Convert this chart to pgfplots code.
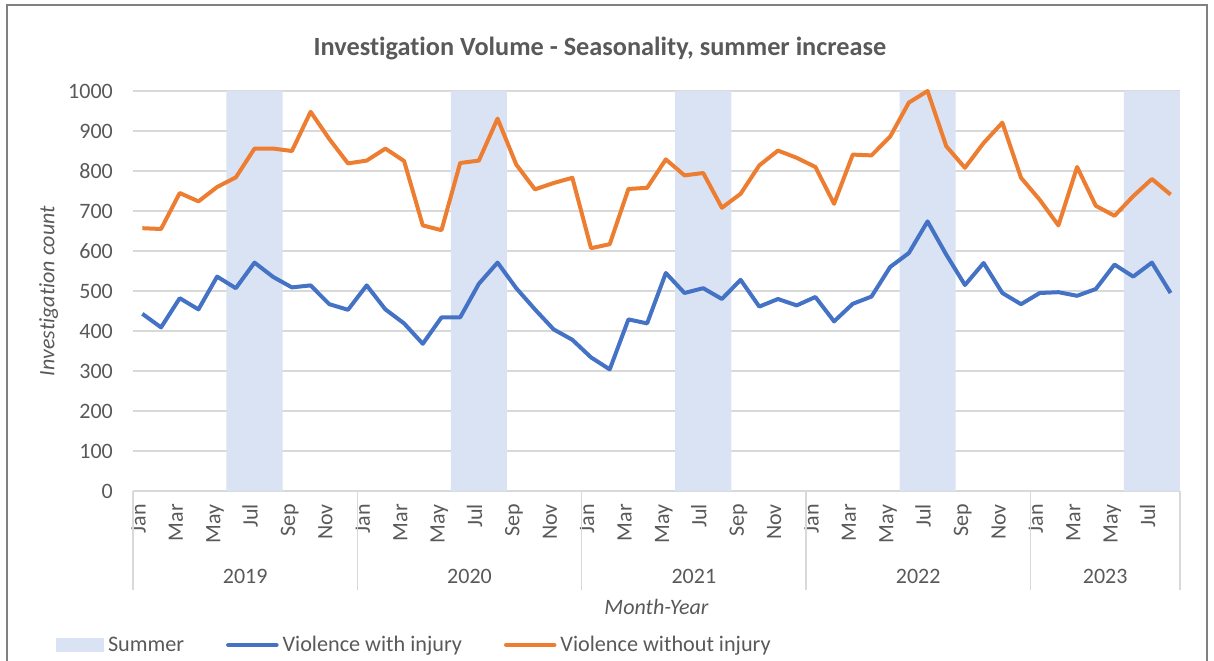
\documentclass[border=0pt]{standalone}
\usepackage{pgfplots}
\pgfplotsset{compat=1.18}
\usepackage{fontspec}
\setmainfont{Carlito}[Ligatures=NoCommon]
\definecolor{txt}{HTML}{595959}
\definecolor{gridc}{HTML}{D9D9D9}
\definecolor{summer}{HTML}{DAE3F3}
\definecolor{cblue}{HTML}{4472C4}
\definecolor{corange}{HTML}{ED7D31}
\definecolor{frame}{HTML}{808080}
\begin{document}
\begin{tikzpicture}
\useasboundingbox (0,0) rectangle (1214bp,661bp);
\draw[frame, line width=2bp] (7bp,656bp) rectangle (1207bp,-20bp);
\begin{axis}[
  at={(133bp,170bp)}, anchor=south west,
  scale only axis, width=1047bp, height=400bp,
  xmin=-0.5, xmax=55.5, ymin=0, ymax=1000,
  clip=false,
  axis lines*=left,
  x axis line style={draw=gridc, line width=1.5bp},
  y axis line style={draw=none},
  ytick={0,100,...,1000},
  /pgf/number format/assume math mode=true,
  /pgf/number format/1000 sep={},
  ymajorgrids, grid style={draw=gridc, line width=1.5bp},
  ytick style={draw=none},
  yticklabel style={font=\fontsize{22bp}{26bp}\selectfont, text=txt, anchor=east, inner sep=0pt, xshift=-20bp},
  xtick={0,2,...,54},
  xticklabels={Jan,Mar,May,Jul,Sep,Nov,Jan,Mar,May,Jul,Sep,Nov,Jan,Mar,May,Jul,Sep,Nov,Jan,Mar,May,Jul,Sep,Nov,Jan,Mar,May,Jul},
  xtick style={draw=none},
  xticklabel style={font=\fontsize{22bp}{26bp}\selectfont, text=txt, rotate=90, anchor=east, inner sep=0pt, text height=0.64em, text depth=0pt},
  xticklabel shift=13bp,
  extra x ticks={-0.5,11.5,23.5,35.5,47.5,55.5},
  extra x tick labels={},
  extra x tick style={major tick length=99bp, tick align=outside, xtick style={draw=gridc, line width=1.5bp}},
  every axis y label/.style={at={(axis description cs:-0.0805,0.5)}, rotate=90, anchor=center},
  ylabel={\itshape Investigation count},
  ylabel style={font=\fontsize{22bp}{26bp}\selectfont, text=txt},
  every axis x label/.style={at={(axis description cs:0.5,-0.29)}, anchor=center},
  xlabel={\itshape Month-Year},
  xlabel style={font=\fontsize{22bp}{26bp}\selectfont, text=txt},
  title={Investigation Volume - Seasonality, summer increase},
  title style={at={(axis description cs:0.446,1.092)}, anchor=center, font=\bfseries\fontsize{26.3bp}{30bp}\selectfont, text=txt},
  legend columns=3,
  legend style={at={(axis description cs:-0.07354,-0.385)}, anchor=west, draw=none, fill=none, inner sep=0pt, outer sep=0pt,
    font=\fontsize{22.2bp}{26bp}\selectfont, text=txt,
    nodes={inner sep=0pt},
    /tikz/every odd column/.append style={column sep=4bp},
    /tikz/every even column/.append style={column sep=42bp}},
]
\addplot[ybar, bar width=1, bar shift=0pt, fill=summer, draw=none,
  legend image code/.code={\fill[summer] (0bp,-6.5bp) rectangle (48bp,6.5bp);}]
  coordinates {(5,1000)(6,1000)(7,1000)(17,1000)(18,1000)(19,1000)(29,1000)(30,1000)(31,1000)(41,1000)(42,1000)(43,1000)(53,1000)(54,1000)(55,1000)};
\addlegendentry{Summer}
\addplot[cblue, line width=4bp, line join=round,
  legend image code/.code={\draw[cblue, line width=4.5bp, line cap=round] (2bp,0bp) -- (50bp,0bp);}]
  coordinates {(0,443)(1,409)(2,482)(3,454)(4,536)(5,507)(6,571)(7,535)(8,509)(9,514)(10,467)(11,453)(12,514)(13,454)(14,419)(15,368)(16,434)(17,434)(18,518)(19,571)(20,507)(21,454)(22,404)(23,378)(24,334)(25,304)(26,429)(27,419)(28,545)(29,495)(30,507)(31,480)(32,528)(33,461)(34,480)(35,464)(36,485)(37,424)(38,468)(39,486)(40,560)(41,595)(42,674)(43,591)(44,515)(45,570)(46,495)(47,467)(48,495)(49,497)(50,488)(51,505)(52,566)(53,536)(54,571)(55,495)};
\addlegendentry{Violence with injury}
\addplot[corange, line width=4bp, line join=round,
  legend image code/.code={\draw[corange, line width=4.5bp, line cap=round] (2bp,0bp) -- (50bp,0bp);}]
  coordinates {(0,657)(1,655)(2,745)(3,724)(4,760)(5,784)(6,856)(7,856)(8,850)(9,948)(10,880)(11,819)(12,826)(13,856)(14,825)(15,664)(16,652)(17,820)(18,826)(19,931)(20,816)(21,754)(22,770)(23,783)(24,607)(25,617)(26,755)(27,758)(28,829)(29,789)(30,795)(31,708)(32,743)(33,814)(34,851)(35,833)(36,810)(37,718)(38,841)(39,839)(40,886)(41,971)(42,1000)(43,862)(44,808)(45,870)(46,921)(47,783)(48,728)(49,664)(50,810)(51,713)(52,688)(53,737)(54,780)(55,741)};
\addlegendentry{Violence without injury}
\foreach \xx/\yy in {5.5/2019,17.5/2020,29.5/2021,41.5/2022,51.5/2023}{
  \edef\tmp{\noexpand\node[font=\noexpand\fontsize{22bp}{26bp}\noexpand\selectfont, text=txt, anchor=center, inner sep=0pt] at (axis cs:\xx,0) [yshift=-85bp] {\yy};}
  \tmp
}
\end{axis}
\end{tikzpicture}
\end{document}
